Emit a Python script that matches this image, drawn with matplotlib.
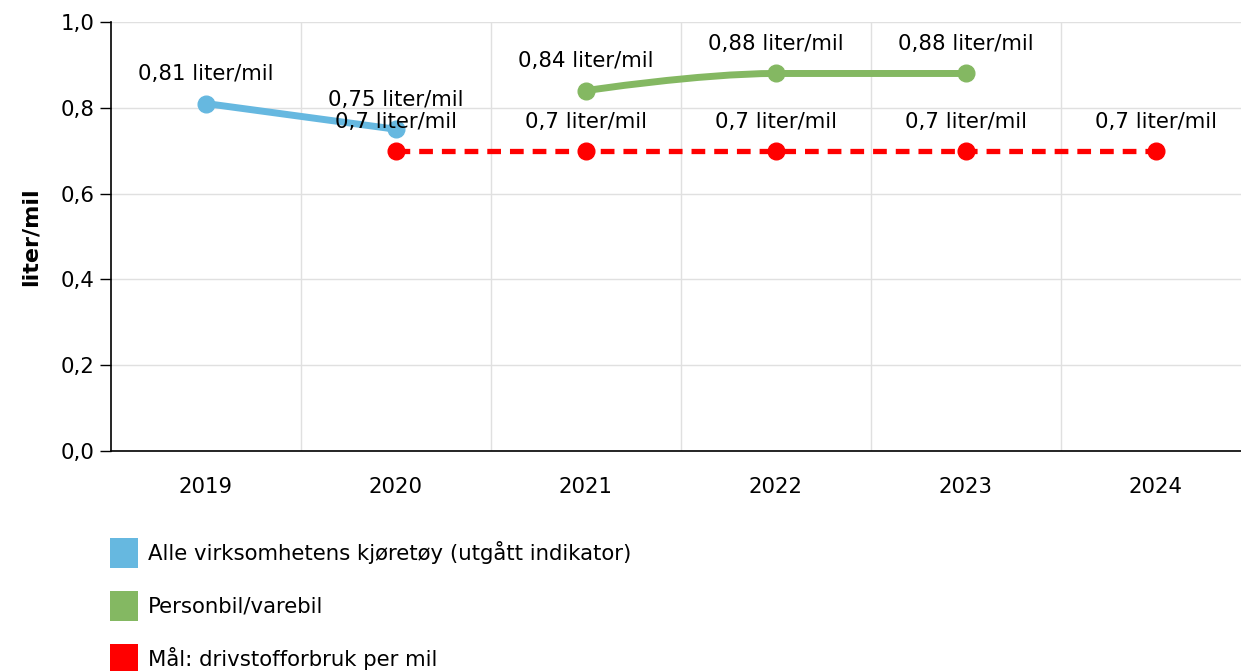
import numpy as np
import matplotlib.pyplot as plt
from matplotlib.path import Path
from matplotlib.patches import PathPatch, Rectangle

years = ['2019', '2020', '2021', '2022', '2023', '2024']
alle_x = [0, 1]
alle_y = [0.81, 0.75]
person_x = [2, 3, 4]
person_y = [0.84, 0.88, 0.88]
maal_x = [1, 2, 3, 4, 5]
maal_y = [0.7, 0.7, 0.7, 0.7, 0.7]
names = ['Alle virksomhetens kjøretøy (utgått indikator)', 'Personbil/varebil', 'Mål: drivstofforbruk per mil']
colors = ['#66b8e0', '#84b862', '#ff0000']

plt.rcParams['font.family'] = ['DejaVu Sans']
FS = 15.3


def spline_path(xs, ys, smoothing=1.5):
    # highcharts-like spline made of cubic bezier pieces
    verts = [(xs[0], ys[0])]
    codes = [Path.MOVETO]
    n = len(xs)
    ctrl = []
    for i in range(n):
        if i == 0 or i == n - 1:
            ctrl.append(((xs[i], ys[i]), (xs[i], ys[i])))
            continue
        d = smoothing + 1
        lx = (smoothing * xs[i] + xs[i - 1]) / d
        ly = (smoothing * ys[i] + ys[i - 1]) / d
        rx = (smoothing * xs[i] + xs[i + 1]) / d
        ry = (smoothing * ys[i] + ys[i + 1]) / d
        if rx != lx:
            corr = (ry - ly) * (rx - xs[i]) / (rx - lx) + ys[i] - ry
            ly += corr
            ry += corr
        hi, lo = max(ys[i - 1], ys[i]), min(ys[i - 1], ys[i])
        if ly > hi:
            ly = hi
            ry = 2 * ys[i] - ly
        elif ly < lo:
            ly = lo
            ry = 2 * ys[i] - ly
        hi, lo = max(ys[i + 1], ys[i]), min(ys[i + 1], ys[i])
        if ry > hi:
            ry = hi
            ly = 2 * ys[i] - ry
        elif ry < lo:
            ry = lo
            ly = 2 * ys[i] - ry
        ctrl.append(((lx, ly), (rx, ry)))
    for i in range(1, n):
        verts += [ctrl[i - 1][1], ctrl[i][0], (xs[i], ys[i])]
        codes += [Path.CURVE4] * 3
    return Path(verts, codes)


fig = plt.figure(figsize=(12.41, 6.71), dpi=100)
ax = fig.add_axes([0.0894, 0.3279, 0.9106, 0.6393])

ax.plot(alle_x, alle_y, color=colors[0], lw=5, marker='o', ms=12, zorder=3)
ax.add_patch(PathPatch(spline_path(person_x, person_y), fill=False, edgecolor=colors[1],
                       lw=5, capstyle='round', zorder=3))
ax.plot(person_x, person_y, ls='none', color=colors[1], marker='o', ms=12, zorder=3)
ax.plot(maal_x, maal_y, color=colors[2], lw=3.8, ls=(0, (2.6, 1.7)), marker='o', ms=12, zorder=3)

for xs, ys in [(alle_x, alle_y), (person_x, person_y), (maal_x, maal_y)]:
    for x, y in zip(xs, ys):
        lab = ('%g' % y).replace('.', ',') + ' liter/mil'
        ax.annotate(lab, (x, y), xytext=(0, 21), textcoords='offset points',
                    ha='center', va='center', fontsize=FS, color='black', zorder=4)

ax.set_xlim(-0.5, 5.45)
ax.set_ylim(0, 1.0)
ax.set_xticks(range(len(years)))
ax.set_xticklabels(years)
ax.set_yticks(np.arange(0, 1.01, 0.2))
ax.set_yticklabels([('%.1f' % v).replace('.', ',') for v in np.arange(0, 1.01, 0.2)])
ax.set_xticks(np.arange(0.5, 5, 1), minor=True)
ax.tick_params(axis='x', which='both', length=0, labelsize=FS, pad=19)
ax.tick_params(axis='y', length=8, width=1, labelsize=FS, pad=4)
ax.grid(axis='y', color='#e0e0e0', lw=1)
ax.grid(axis='x', which='minor', color='#e0e0e0', lw=1)
ax.set_axisbelow(True)
for s in ['top', 'right']:
    ax.spines[s].set_visible(False)
ax.spines['left'].set_linewidth(1.2)
ax.spines['bottom'].set_linewidth(1.2)
ax.set_ylabel('liter/mil', fontsize=16, fontweight='bold', labelpad=14)

# legend drawn by hand, one row per series
W, H = 1241, 671
for i, (name, c) in enumerate(zip(names, colors)):
    yc = 553 + i * 53
    fig.patches.append(Rectangle((110 / W, 1 - (yc + 15) / H), 28 / W, 30 / H,
                                 transform=fig.transFigure, facecolor=c, edgecolor='none'))
    fig.text(148 / W, 1 - yc / H, name, fontsize=FS, va='center', ha='left')

fig.savefig('out.png', dpi=100)
